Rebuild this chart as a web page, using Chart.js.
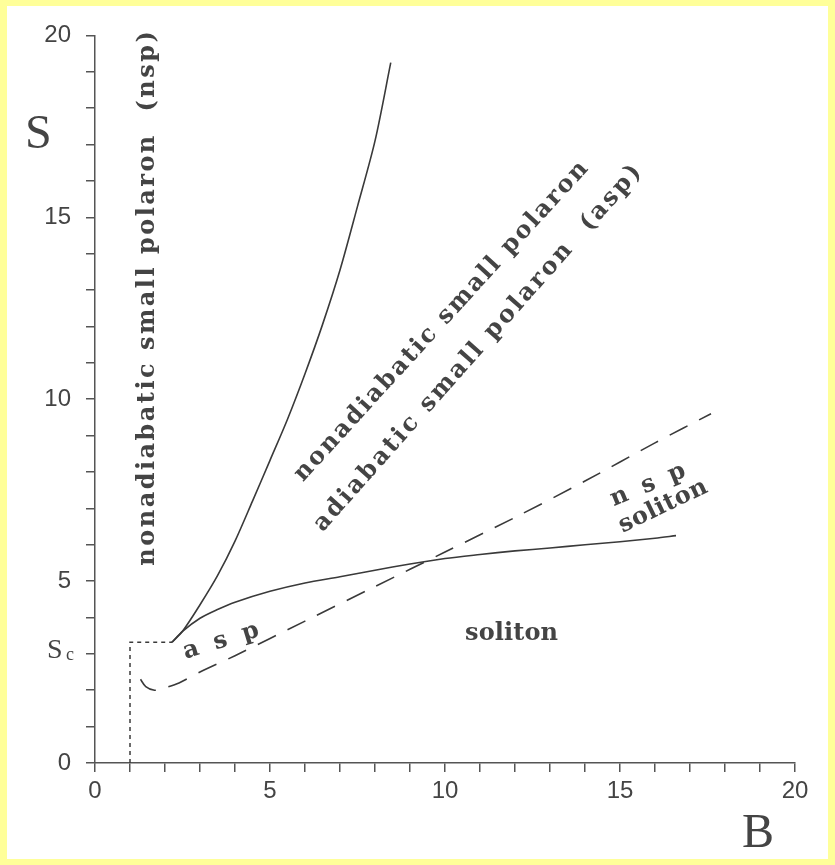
<!DOCTYPE html>
<html>
<head>
<meta charset="utf-8">
<script src="https://cdn.jsdelivr.net/npm/chart.js@4.4.1/dist/chart.umd.min.js"></script>
<style>
  html, body { margin: 0; padding: 0; background: #ffff99; }
  #frame { position: absolute; left: 7px; top: 6px; width: 821px; height: 853px; background: #fff; }
  canvas { display: block; }
</style>
</head>
<body>
<div id="frame"><canvas id="phaseChart" width="821" height="853"></canvas></div>
<script>
// Values (B on x, S on y)
const majorTicks = [0, 5, 10, 15, 20];

// nsp / asp boundary (steep solid line)
const steepB = [2.2, 2.5, 3.0, 3.5, 4.0, 4.5, 5.0, 5.5, 6.0, 6.5, 7.0, 7.5, 8.0, 8.45];
const steepS = [3.32, 3.62, 4.35, 5.15, 6.1, 7.2, 8.32, 9.45, 10.7, 12.05, 13.55, 15.3, 17.1, 19.25];

// polaron / soliton boundary (flat solid line)
const lowB = [2.2, 2.5, 3.0, 3.5, 4.0, 5.0, 6.0, 7.0, 8.0, 9.0, 10.0, 11.0, 12.0, 13.0, 14.0, 15.0, 16.0, 16.6];
const lowS = [3.32, 3.62, 3.98, 4.22, 4.42, 4.72, 4.95, 5.12, 5.3, 5.47, 5.62, 5.73, 5.83, 5.91, 6.0, 6.08, 6.18, 6.25];

// adiabatic / nonadiabatic boundary (dashed)
const dashB = [1.3, 1.45, 1.7, 2.0, 2.4, 3.0, 4.0, 6.0, 8.0, 10.0, 12.0, 14.0, 16.0, 17.6];
const dashS = [2.3, 2.1, 2.0, 2.07, 2.2, 2.5, 2.95, 3.9, 4.85, 5.8, 6.75, 7.75, 8.8, 9.6];

// critical point S_c at B = 1
const critB = [1, 1, 2.2];
const critS = [0, 3.32, 3.32];

function pts(xs, ys) {
  return xs.map((x, i) => ({ x: x, y: ys[i] }));
}

const ink = '#3a3a3a';

// region names, placed in data units
const regionLabels = [
  { text: 'nonadiabatic small polaron  (nsp)', at: [1.49, 12.77], angle: -90, len: 537 },
  { text: 'nonadiabatic small polaron', at: [9.89, 12.14], angle: -47.6, len: 426 },
  { text: 'adiabatic small polaron  (asp)', at: [10.93, 11.4], angle: -48.4, len: 484 },
  { text: 'a s p', at: [3.6, 3.35], angle: -17, len: 82 },
  { text: 'n s p', at: [15.8, 7.64], angle: -22.4, len: 83 },
  { text: 'soliton', at: [16.23, 7.06], angle: -25.6, len: 96 },
  { text: 'soliton', at: [11.9, 3.57], angle: 0, len: 93 }
];

const textPlugin = {
  id: 'textPlugin',
  afterDraw(chart) {
    const ctx = chart.ctx;
    const xs = chart.scales.x, ys = chart.scales.y;
    const area = chart.chartArea;
    const size = 24;
    ctx.save();
    ctx.fillStyle = '#444';
    ctx.font = 'bold ' + size + 'px "DejaVu Serif"';
    ctx.textAlign = 'center';
    ctx.textBaseline = 'alphabetic';
    regionLabels.forEach(l => {
      ctx.letterSpacing = '0px';
      const w = ctx.measureText(l.text).width;
      const ls = (l.len - w) / l.text.length;
      ctx.letterSpacing = ls + 'px';
      ctx.save();
      ctx.translate(xs.getPixelForValue(l.at[0]), ys.getPixelForValue(l.at[1]));
      ctx.rotate(l.angle * Math.PI / 180);
      ctx.fillText(l.text, ls / 2, size * 0.27);
      ctx.restore();
    });
    ctx.letterSpacing = '0px';

    // axis titles
    ctx.textAlign = 'left';
    ctx.fillStyle = '#444';
    ctx.font = '48px "Liberation Serif"';
    ctx.fillText('S', area.left - 70, area.top + 113);
    ctx.fillText('B', area.right - 53, area.bottom + 84);

    // S_c mark
    const yc = ys.getPixelForValue(3.32);
    ctx.font = '28px "Liberation Serif"';
    ctx.fillText('S', area.left - 48, yc + 16);
    ctx.font = '18px "Liberation Serif"';
    ctx.fillText('c', area.left - 29, yc + 18);
    ctx.restore();
  }
};

const axisStyle = {
  type: 'linear',
  min: 0,
  max: 20,
  border: { color: '#555', width: 1.5 },
  grid: { drawOnChartArea: false, drawTicks: true, tickLength: 9, color: '#555', lineWidth: 1.5 },
};

const ctx = document.getElementById('phaseChart').getContext('2d');
new Chart(ctx, {
  type: 'scatter',
  data: {
    datasets: [
      { data: pts(steepB, steepS), showLine: true, borderColor: ink, borderWidth: 1.6, tension: 0.3, pointRadius: 0 },
      { data: pts(lowB, lowS), showLine: true, borderColor: ink, borderWidth: 1.6, tension: 0.3, pointRadius: 0 },
      { data: pts(dashB, dashS), showLine: true, borderColor: ink, borderWidth: 1.6, tension: 0.3, pointRadius: 0, borderDash: [20, 13] },
      { data: pts(critB, critS), showLine: true, borderColor: ink, borderWidth: 1.5, tension: 0, pointRadius: 0, borderDash: [4, 4] }
    ]
  },
  options: {
    responsive: false,
    animation: false,
    layout: { padding: { left: 0, top: 29, right: 33, bottom: 0 } },
    plugins: { legend: { display: false }, tooltip: { enabled: false } },
    scales: {
      x: Object.assign({}, axisStyle, {
        position: 'bottom',
        afterFit: s => { s.height = 96; },
        ticks: {
          stepSize: 1, autoSkip: false, maxRotation: 0, padding: 5,
          color: '#444', font: { family: 'Liberation Sans', size: 24 },
          callback: v => majorTicks.includes(v) ? String(v) : ''
        }
      }),
      y: Object.assign({}, axisStyle, {
        position: 'left',
        afterFit: s => { s.width = 88; },
        ticks: {
          stepSize: 1, autoSkip: false, padding: 15,
          color: '#444', font: { family: 'Liberation Sans', size: 24 },
          callback: v => majorTicks.includes(v) ? String(v) : ''
        }
      })
    }
  },
  plugins: [textPlugin]
});
</script>
</body>
</html>
